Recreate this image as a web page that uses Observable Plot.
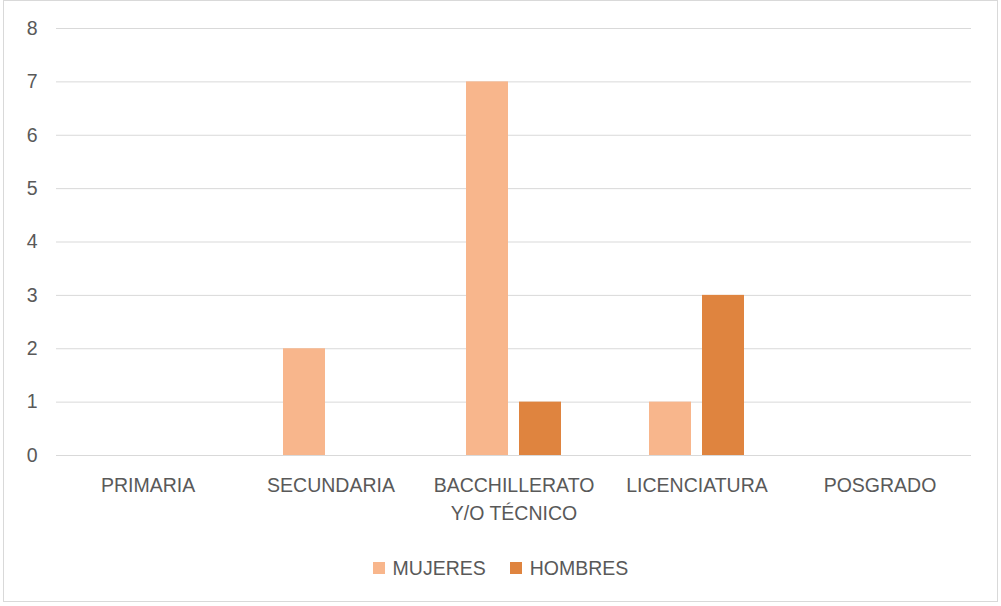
<!DOCTYPE html>
<html>
<head>
<meta charset="utf-8">
<script src="https://cdn.jsdelivr.net/npm/d3@7"></script>
<script src="https://cdn.jsdelivr.net/npm/@observablehq/plot@0.6"></script>
<style>
  body { margin: 0; background: #fff; font-family: "Liberation Sans", Arial, sans-serif; }
  #frame { position: absolute; left: 3px; top: 0px; width: 995px; height: 602px; border: 1px solid #d9d9d9; box-sizing: border-box; }
  #chart { position: absolute; left: 0; top: 0; }
  #legend { position: absolute; left: 0; top: 540px; width: 1001px; height: 56px; display: flex; justify-content: center; align-items: center; gap: 24px; font-size: 19.5px; color: #595959; }
  .item { display: flex; align-items: center; gap: 8px; }
  .sw { width: 12px; height: 12px; display: inline-block; }
</style>
</head>
<body>
<div id="frame"></div>
<div id="chart"></div>
<div id="legend"></div>
<script>
const categories = ["PRIMARIA", "SECUNDARIA", "BACCHILLERATO\nY/O TÉCNICO", "LICENCIATURA", "POSGRADO"];
const series = ["MUJERES", "HOMBRES"];
const mujeres = [0, 2, 7, 1, 0];
const hombres = [0, 0, 1, 3, 0];
const colors = ["#F8B68C", "#DF843F"];
const yTicks = [0, 1, 2, 3, 4, 5, 6, 7, 8];

const rows = [];
categories.forEach((c, i) => {
  rows.push({cat: c, sex: series[0], value: mujeres[i]});
  rows.push({cat: c, sex: series[1], value: hombres[i]});
});

const plot = Plot.plot({
  width: 1001,
  height: 540,
  marginLeft: 55,
  marginRight: 30,
  marginTop: 28,
  marginBottom: 85,
  style: {fontFamily: '"Liberation Sans", Arial, sans-serif', fontSize: "19.5px", color: "#595959", background: "transparent"},
  fx: {domain: categories, padding: 0, label: null, axis: null},
  x: {domain: series, paddingInner: 0.21, paddingOuter: 0.83, axis: null},
  y: {domain: [0, 8], ticks: yTicks, label: null, axis: null},
  color: {domain: series, range: colors},
  marks: [
    Plot.gridY(yTicks, {stroke: "#d9d9d9", strokeOpacity: 1, strokeWidth: 1}),
    Plot.axisY(yTicks, {tickSize: 0, tickPadding: 19, label: null, fill: "#595959", fontSize: 19.5, tickFormat: d => String(d)}),
    Plot.axisFx({anchor: "bottom", tickSize: 0, tickPadding: 16, label: null, fill: "#595959", fontSize: 19.5, lineHeight: 1.45}),
    Plot.barY(rows, {fx: "cat", x: "sex", y: "value", fill: "sex"}),
    Plot.ruleY([0], {stroke: "#d9d9d9", strokeWidth: 1})
  ]
});
document.getElementById("chart").appendChild(plot);

const legend = document.getElementById("legend");
series.forEach((s, i) => {
  const item = document.createElement("div");
  item.className = "item";
  const sw = document.createElement("span");
  sw.className = "sw";
  sw.style.background = colors[i];
  const t = document.createElement("span");
  t.textContent = s;
  item.appendChild(sw);
  item.appendChild(t);
  legend.appendChild(item);
});
</script>
</body>
</html>
